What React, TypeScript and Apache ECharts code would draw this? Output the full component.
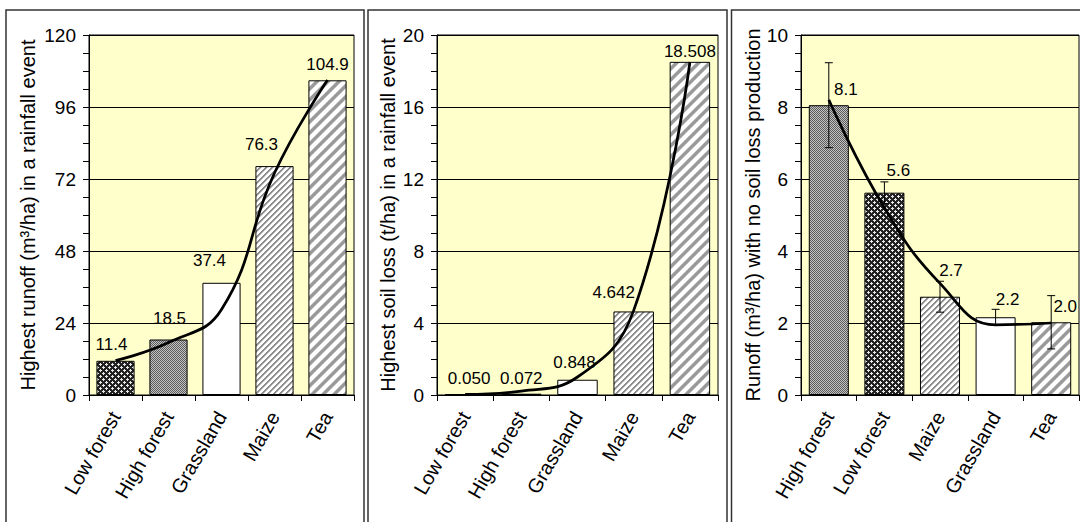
import React, { useEffect, useRef } from "react";
import * as echarts from "echarts";

// ---------- data ----------
const categoriesRunoff = ["Low forest", "High forest", "Grassland", "Maize", "Tea"];
const runoffValues = [11.4, 18.5, 37.4, 76.3, 104.9];
const runoffTrend = [11.5, 17.5, 28.5, 74, 105];
const runoffTicks = [0, 24, 48, 72, 96, 120];

const categoriesSoil = ["Low forest", "High forest", "Grassland", "Maize", "Tea"];
const soilLossValues = [0.05, 0.072, 0.848, 4.642, 18.508];
const soilLossTrend = [0.03, 0.22, 1.0, 4.7, 18.5];
const soilTicks = [0, 4, 8, 12, 16, 20];

const categoriesNoLoss = ["High forest", "Low forest", "Maize", "Grassland", "Tea"];
const noLossValues = [8.05, 5.62, 2.73, 2.16, 2.02];
const noLossErrors = [1.18, 0.3, 0.43, 0.22, 0.74];
const noLossTrend = [8.2, 5.2, 3.1, 1.95, 2.0];
const noLossTicks = [0, 2, 4, 6, 8, 10];

// ---------- styling (positions / offsets, not data) ----------
const labelOffsets1 = [[-4, -3], [1, -8], [-12, -9], [-13, -8], [0, -2]];
const labelOffsets2 = [[4, -2], [0, -2], [-3, -4], [-20, -5], [0, 3]];
const labelOffsets3 = [[17, -2], [14, -9], [11, -13], [12, -4], [14, -2]];

const FONT = "Liberation Sans, Arial, sans-serif";

function makeTile(size: number, fn: (x: number, y: number) => string) {
  const c = document.createElement("canvas");
  c.width = size;
  c.height = size;
  const ctx = c.getContext("2d")!;
  for (let y = 0; y < size; y++) {
    for (let x = 0; x < size; x++) {
      ctx.fillStyle = fn(x, y);
      ctx.fillRect(x, y, 1, 1);
    }
  }
  return c;
}

function buildPatterns() {
  const cross = makeTile(6, (x, y) => {
    const p1 = (x === 1 && y >= 0 && y <= 2) || (y === 1 && x >= 0 && x <= 2);
    const p2 = (x === 4 && y >= 3 && y <= 5) || (y === 4 && x >= 3 && x <= 5);
    return p1 || p2 ? "#e8e8e8" : "#222222";
  });
  const checker = makeTile(2, (x, y) => ((x + y) % 2 === 0 ? "#5a5a5a" : "#c4c4c4"));
  const thin = makeTile(6, (x, y) => {
    const m = (x + y) % 6;
    return m < 2 ? "#8c8c8c" : m === 2 ? "#c8c8c8" : "#ffffff";
  });
  const wide = makeTile(11, (x, y) => {
    const m = (x + y) % 11;
    if (m < 4) return "#9a9a9a";
    if (m === 4 || m === 10) return "#cfcfcf";
    return "#ffffff";
  });
  const pat = (img: HTMLCanvasElement) => ({ image: img, repeat: "repeat" });
  return {
    "Low forest": pat(cross),
    "High forest": pat(checker),
    Grassland: "#ffffff",
    Maize: pat(thin),
    Tea: pat(wide),
  } as Record<string, any>;
}

export default function App() {
  const ref = useRef<HTMLDivElement>(null);

  useEffect(() => {
    if (!ref.current) return;
    const chart = echarts.init(ref.current, undefined, { renderer: "svg" });
    const patterns = buildPatterns();

    const grids = [
      { left: 89, top: 35, width: 265, height: 360 },
      { left: 437, top: 35, width: 281, height: 360 },
      { left: 801, top: 35, width: 278, height: 360 },
    ].map((g) => ({
      ...g,
      show: true,
      backgroundColor: "#ffffcc",
      borderColor: "#000",
      borderWidth: 1,
      containLabel: false,
    }));

    const xAxisOf = (idx: number, cats: string[]) => ({
      type: "category",
      gridIndex: idx,
      data: cats,
      axisLine: { show: true, lineStyle: { color: "#000", width: 1 } },
      axisTick: { show: true, length: 6, lineStyle: { color: "#000" } },
      axisLabel: {
        rotate: 60,
        interval: 0,
        fontSize: 20,
        color: "#000",
        fontFamily: FONT,
        margin: 18,
      },
    });

    const yAxisOf = (idx: number, ticks: number[], name: string, gap: number) => ({
      type: "value",
      gridIndex: idx,
      min: ticks[0],
      max: ticks[ticks.length - 1],
      interval: ticks[1] - ticks[0],
      name,
      nameLocation: "middle",
      nameGap: gap,
      nameTextStyle: { fontSize: 20, color: "#000", fontFamily: FONT },
      axisLine: { show: true, lineStyle: { color: "#000", width: 1 } },
      axisTick: { show: true, length: 6, lineStyle: { color: "#000" } },
      minorTick: { show: true, splitNumber: 4, length: 6, lineStyle: { color: "#000" } },
      splitLine: { show: true, lineStyle: { color: "#000", width: 1 } },
      axisLabel: { fontSize: 19, color: "#000", fontFamily: FONT, margin: 13 },
    });

    const barSeries = (
      idx: number,
      cats: string[],
      values: number[],
      offsets: number[][],
      digits: number
    ) => ({
      type: "bar",
      xAxisIndex: idx,
      yAxisIndex: idx,
      barWidth: "72%",
      z: 2,
      itemStyle: { borderColor: "#000", borderWidth: 1 },
      label: {
        show: true,
        position: "top",
        fontSize: 17,
        color: "#000",
        fontFamily: FONT,
        formatter: (p: any) => Number(p.value).toFixed(digits),
      },
      data: values.map((v, i) => ({
        value: v,
        itemStyle: { color: patterns[cats[i]] },
        label: { offset: offsets[i] },
      })),
    });

    const trendSeries = (idx: number, values: number[]) => ({
      type: "line",
      xAxisIndex: idx,
      yAxisIndex: idx,
      data: values,
      smooth: 0.45,
      showSymbol: false,
      symbol: "none",
      z: 4,
      lineStyle: { color: "#000", width: 2.75 },
    });

    const errorSeries = {
      type: "custom",
      xAxisIndex: 2,
      yAxisIndex: 2,
      z: 3,
      data: noLossValues.map((v, i) => [i, v - noLossErrors[i], v + noLossErrors[i]]),
      renderItem: (_params: any, api: any) => {
        const x = api.value(0);
        const lo = api.coord([x, api.value(1)]);
        const hi = api.coord([x, api.value(2)]);
        const hw = 4;
        const st = { stroke: "#000", lineWidth: 1 };
        return {
          type: "group",
          children: [
            { type: "line", shape: { x1: lo[0], y1: lo[1], x2: hi[0], y2: hi[1] }, style: st },
            { type: "line", shape: { x1: hi[0] - hw, y1: hi[1], x2: hi[0] + hw, y2: hi[1] }, style: st },
            { type: "line", shape: { x1: lo[0] - hw, y1: lo[1], x2: lo[0] + hw, y2: lo[1] }, style: st },
          ],
        };
      },
    };

    const border = (x: number, w: number) => ({
      type: "rect",
      shape: { x, y: 10, width: w, height: 530 },
      style: { fill: "none", stroke: "#333", lineWidth: 1.5 },
      silent: true,
    });

    chart.setOption({
      animation: false,
      grid: grids,
      xAxis: [
        xAxisOf(0, categoriesRunoff),
        xAxisOf(1, categoriesSoil),
        xAxisOf(2, categoriesNoLoss),
      ],
      yAxis: [
        yAxisOf(0, runoffTicks, "Highest runoff (m³/ha) in a rainfall event", 51),
        yAxisOf(1, soilTicks, "Highest soil loss (t/ha) in a rainfall event", 39),
        yAxisOf(2, noLossTicks, "Runoff (m³/ha) with no soil loss production", 38),
      ],
      graphic: [border(6, 358), border(368, 359), border(731.5, 360)],
      series: [
        barSeries(0, categoriesRunoff, runoffValues, labelOffsets1, 1),
        trendSeries(0, runoffTrend),
        barSeries(1, categoriesSoil, soilLossValues, labelOffsets2, 3),
        trendSeries(1, soilLossTrend),
        barSeries(2, categoriesNoLoss, noLossValues, labelOffsets3, 1),
        errorSeries,
        trendSeries(2, noLossTrend),
      ],
    });

    return () => chart.dispose();
  }, []);

  return (
    <div
      ref={ref}
      style={{ position: "absolute", left: 0, top: 0, width: 1080, height: 522, background: "#fff" }}
    />
  );
}
